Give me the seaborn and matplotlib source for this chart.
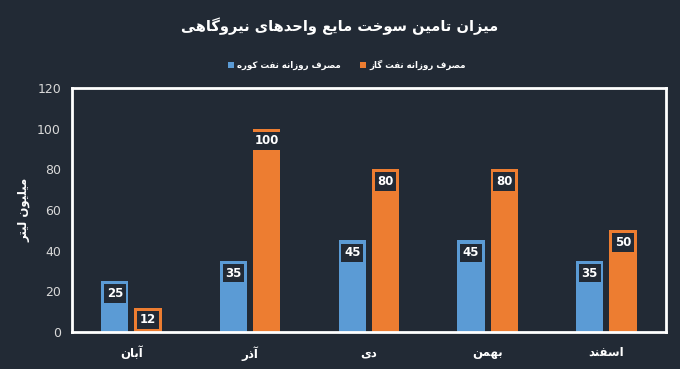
import pandas as pd
import matplotlib
matplotlib.use("Agg")
import matplotlib.pyplot as plt
import seaborn as sns
from matplotlib.patches import Patch

# chart data
months = ["آبان", "آذر", "دی", "بهمن", "اسفند"]
series_names = ["مصرف روزانه نفت کوره", "مصرف روزانه نفت گاز"]
kooreh = [25, 35, 45, 45, 35]
gasoil = [12, 100, 80, 80, 50]
title = "میزان تامین سوخت مایع واحدهای نیروگاهی"
ylabel = "میلیون لیتر"
yticks = [0, 20, 40, 60, 80, 100, 120]

BG = "#222a35"
colors = ["#5b9bd5", "#ed7d31"]

# minimal arabic/persian shaping (matplotlib does no shaping or bidi)
DUAL = {'ب': 0xFE8F, 'پ': 0xFB56, 'ت': 0xFE95, 'ث': 0xFE99, 'ج': 0xFE9D,
        'چ': 0xFB7A, 'ح': 0xFEA1, 'خ': 0xFEA5, 'س': 0xFEB1, 'ش': 0xFEB5,
        'ص': 0xFEB9, 'ض': 0xFEBD, 'ط': 0xFEC1, 'ظ': 0xFEC5, 'ع': 0xFEC9,
        'غ': 0xFECD, 'ف': 0xFED1, 'ق': 0xFED5, 'ک': 0xFB8E, 'گ': 0xFB92,
        'ل': 0xFEDD, 'م': 0xFEE1, 'ن': 0xFEE5, 'ه': 0xFEE9, 'ی': 0xFBFC}
RIGHT = {'ا': 0xFE8D, 'آ': 0xFE81, 'د': 0xFEA9, 'ذ': 0xFEAB, 'ر': 0xFEAD,
         'ز': 0xFEAF, 'ژ': 0xFB8A, 'و': 0xFEED}


def fa(s):
    out = []
    for i, c in enumerate(s):
        base = DUAL.get(c, RIGHT.get(c))
        if base is None:
            out.append(c)
            continue
        prev = s[i - 1] if i > 0 else ''
        nxt = s[i + 1] if i + 1 < len(s) else ''
        jp = prev in DUAL
        jn = c in DUAL and (nxt in DUAL or nxt in RIGHT)
        if jp and jn:
            out.append(chr(base + 3))
        elif jp:
            out.append(chr(base + 1))
        elif jn:
            out.append(chr(base + 2))
        else:
            out.append(chr(base))
    return ''.join(reversed(out))


df = pd.DataFrame({
    "month": months * 2,
    "series": [series_names[0]] * 5 + [series_names[1]] * 5,
    "value": kooreh + gasoil,
})

sns.set_style("dark")
plt.rcParams["font.family"] = ["DejaVu Sans"]

fig = plt.figure(figsize=(6.8, 3.69), dpi=100, facecolor=BG)
ax = fig.add_axes([0.106, 0.1, 0.873, 0.662])
ax.set_facecolor(BG)

sns.barplot(data=df, x="month", y="value", hue="series", order=months,
            hue_order=series_names, palette=colors, width=0.56, gap=0.18,
            saturation=1, ax=ax, legend=False, linewidth=0, edgecolor="none")

ax.set_ylim(0, 120)
ax.set_yticks(yticks)
ax.set_yticklabels([str(v) for v in yticks], color="#d9d9d9", fontsize=9)
ax.set_xticks(range(len(months)))
ax.set_xticklabels([fa(m) for m in months], color="white", fontsize=8.5,
                   fontweight="bold")
ax.tick_params(axis="y", length=0, pad=8)
ax.tick_params(axis="x", length=0, pad=10)
ax.set_xlabel("")
ax.set_ylabel(fa(ylabel), color="white", fontsize=8.5, fontweight="bold")
ax.yaxis.set_label_coords(-0.07, 0.5)
ax.grid(False)
for sp in ax.spines.values():
    sp.set_visible(True)
    sp.set_color("white")
    sp.set_linewidth(2)

# data labels in dark boxes near the bar tops
for cont in ax.containers:
    for bar in cont:
        h = bar.get_height()
        ax.annotate(f"{h:.0f}", (bar.get_x() + bar.get_width() / 2, h),
                    xytext=(0, -8.8), textcoords="offset points",
                    ha="center", va="center", color="white", fontsize=8.5,
                    fontweight="bold",
                    bbox=dict(boxstyle="square,pad=0.22", fc=BG, ec="none"))

fig.text(0.5, 0.93, fa(title), ha="center", va="center", color="white",
         fontsize=10.5, fontweight="bold")

handles = [Patch(facecolor=c, edgecolor="none") for c in colors]
fig.legend(handles, [fa(s) for s in series_names], loc="center",
           bbox_to_anchor=(0.51, 0.823), ncol=2, frameon=False,
           labelcolor="white", prop={"size": 6.2, "weight": "bold"},
           handlelength=0.7, handleheight=0.7, handletextpad=0.4,
           columnspacing=2.2)

fig.savefig("out.png", dpi=100, facecolor=BG)
